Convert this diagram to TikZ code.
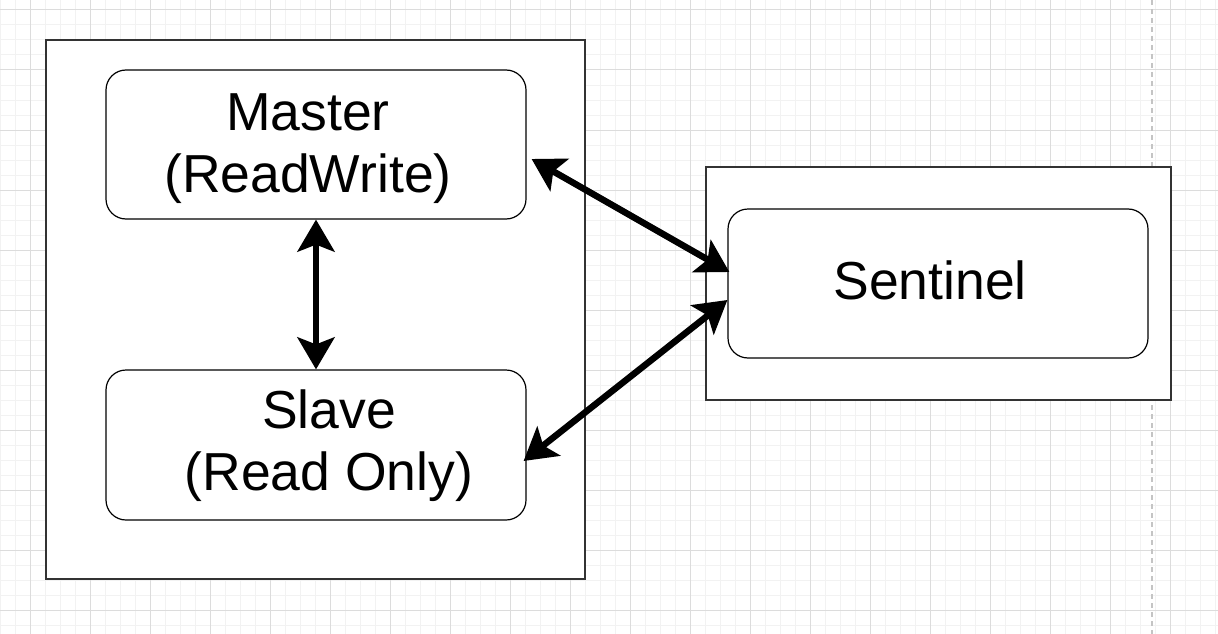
\documentclass[tikz,border=0pt]{standalone}
\usepackage{fontspec}
\setmainfont{Liberation Sans}
\usetikzlibrary{arrows.meta,calc}
\definecolor{gridminor}{HTML}{F2F2F2}
\definecolor{gridmajor}{HTML}{DCDCDC}
\definecolor{pageline}{HTML}{C4C4C4}
\definecolor{framecol}{HTML}{333333}
\tikzset{
  framebox/.style={draw=framecol,line width=1.5pt,fill=white,minimum width=#1},
  roundbox/.style={draw=black,line width=1.2pt,fill=white,rounded corners=20pt,
    minimum width=420pt,inner sep=0pt},
  boxtext/.style={font=\fontsize{53.5}{62}\selectfont,align=center,inner sep=0pt},
  biarrow/.style={line width=6.5pt,{Stealth[length=32pt,width=37pt,inset=7pt]}-{Stealth[length=32pt,width=37pt,inset=7pt]}}
}
\begin{document}
\begin{tikzpicture}[x=1pt,y=-1pt]
\useasboundingbox (0,0) rectangle (1218,634);
% grid
\foreach \i in {0,...,81} {\draw[gridminor,line width=1pt] (\i*15,0) -- (\i*15,634);}
\foreach \j in {0,...,42} {\draw[gridminor,line width=1pt] (0,10+\j*15-15) -- (1218,10+\j*15-15);}
\foreach \i in {0,...,20} {\draw[gridmajor,line width=1pt] (30+\i*60,0) -- (30+\i*60,634);}
\foreach \j in {0,...,10} {\draw[gridmajor,line width=1pt] (0,10+\j*60) -- (1218,10+\j*60);}
\draw[pageline,line width=1.3pt,dash pattern=on 5pt off 4pt] (1152,0) -- (1152,634);
% left group
\node[framebox=539pt,minimum height=539pt] (outerL) at (315.5,309.5) {};
\node[roundbox,minimum height=149pt] (master) at (316,144.5) {};
\node[roundbox,minimum height=150pt] (slave) at (316,445) {};
\node[boxtext] (masterT) at (308,149) {Master\\(ReadWrite)};
\node[boxtext] (slaveT) at (329,446) {Slave\\(Read Only)};
% right group
\node[framebox=465pt,minimum height=233pt] (outerR) at (938.5,283.5) {};
\node[roundbox,minimum height=149pt] (sentinel) at (938,283.5) {};
\node[boxtext] (sentinelT) at (930,280) {Sentinel};
% connectors
\coordinate (m1) at ($(master.east)+(5,14.5)$);
\coordinate (s1) at ($(sentinel.west)+(2,-11.5)$);
\coordinate (m2) at ($(slave.east)+(-3,16)$);
\coordinate (s2) at ($(sentinel.west)+(0,16.5)$);
\draw[biarrow] (master.south) -- (slave.north);
\draw[biarrow] (m1) -- (s1);
\draw[biarrow] (m2) -- (s2);
\end{tikzpicture}
\end{document}
